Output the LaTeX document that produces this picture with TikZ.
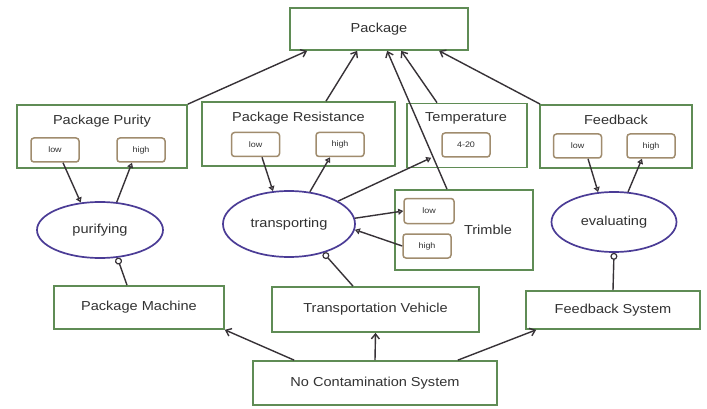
\documentclass[tikz,border=0pt]{standalone}
\usepackage{fontspec}
\setmainfont[FakeStretch=1.12]{Liberation Sans}
\usetikzlibrary{shapes.geometric,arrows.meta,calc}

\definecolor{objgreen}{RGB}{95,140,85}
\definecolor{statebrown}{RGB}{160,140,110}
\definecolor{procpurple}{RGB}{75,60,150}
\definecolor{linkgray}{RGB}{55,50,55}
\definecolor{labelgray}{RGB}{50,50,50}

\tikzset{
  objbox/.style={draw=objgreen, line width=1.7pt, fill=white, inner sep=0pt,
    text=labelgray, font=\fontsize{13}{15}\selectfont},
  attrbox/.style={draw=objgreen, line width=1.7pt, fill=white, inner sep=0pt},
  attrtitle/.style={text=labelgray, font=\fontsize{13}{15}\selectfont, inner sep=0pt},
  statebox/.style={draw=statebrown, line width=1.5pt, fill=white, rounded corners=3pt,
    inner sep=0pt, minimum width=48pt, minimum height=24pt,
    text=labelgray, font=\fontsize{8}{9}\selectfont},
  procnode/.style={ellipse, draw=procpurple, line width=1.7pt, fill=white, inner sep=0pt,
    text=labelgray, font=\fontsize{13}{15}\selectfont},
  link/.style={draw=linkgray, line width=1.4pt},
  partlink/.style={link, -{Straight Barb[length=5pt,width=8pt]}},
  statelink/.style={link, -{Triangle[open,length=5pt,width=6pt]}},
  agentlink/.style={link, -{Circle[open,length=7pt,line width=1.2pt]}},
}

\begin{document}
\begin{tikzpicture}[x=1pt,y=-1pt]
\useasboundingbox (0,0) rectangle (707,409);
\fill[white] (0,0) rectangle (707,409);

% whole object
\node[objbox, minimum width=178pt, minimum height=42pt] (pkg) at (379,29) {Package};

% attribute objects with their states
\node[attrbox, minimum width=170pt, minimum height=63pt] (purity) at (102,136.5) {};
\node[attrtitle] (purityT) at (102,121) {Package Purity};
\node[statebox] (plow) at (55,150) {low};
\node[statebox] (phigh) at (141,150) {high};

\node[attrbox, minimum width=193pt, minimum height=64pt] (resist) at (298.5,134) {};
\node[attrtitle] (resistT) at (298.5,118) {Package Resistance};
\node[statebox] (rlow) at (255.5,144.5) {low};
\node[statebox] (rhigh) at (340,144.5) {high};

\node[attrbox, minimum width=120pt, minimum height=64pt] (temp) at (467,135.5) {};
\node[attrtitle] (tempT) at (466,118) {Temperature};
\node[statebox] (trange) at (466,145) {4-20};

\node[attrbox, minimum width=152pt, minimum height=63pt] (fb) at (616,136.5) {};
\node[attrtitle] (fbT) at (616,120) {Feedback};
\node[statebox] (fblow) at (577.5,146) {low};
\node[statebox] (fbhigh) at (651,146) {high};

\node[attrbox, minimum width=138pt, minimum height=80pt] (trem) at (464,230) {};
\node[attrtitle] (tremT) at (488,230) {Trimble};
\node[statebox, minimum width=50pt, minimum height=25pt] (tlow) at (429,211) {low};
\node[statebox] (thigh) at (427,246) {high};

% processes
\node[procnode, minimum width=126pt, minimum height=56pt] (puri) at (100,230) {purifying};
\node[procnode, minimum width=132pt, minimum height=66pt] (transp) at (289,224) {transporting};
\node[procnode, minimum width=125pt, minimum height=60pt] (evalp) at (614,222) {evaluating};

% systems
\node[objbox, minimum width=170pt, minimum height=43pt] (pm) at (139,307.5) {Package Machine};
\node[objbox, minimum width=207pt, minimum height=45pt] (tv) at (375.5,309.5) {Transportation Vehicle};
\node[objbox, minimum width=174pt, minimum height=38pt] (fs) at (613,310) {Feedback System};
\node[objbox, minimum width=244pt, minimum height=44pt] (ncs) at (375,383) {No Contamination System};

% attributes to the package
\draw[partlink] (purity.north east) -- ($(pkg.south west)+(18,0)$);
\draw[partlink] ($(resist.north)+(27.5,0)$) -- ($(pkg.south west)+(68,0)$);
\draw[partlink] ($(temp.north)+(-30,0)$) -- ($(pkg.south west)+(112,0)$);
\draw[partlink] ($(trem.north)+(-17,0)$) -- ($(pkg.south west)+(98,0)$);
\draw[partlink] ($(fb.north west)+(1,0)$) -- ($(pkg.south west)+(150,0)$);

% state changes
\draw[statelink] ($(plow.south)+(8,0)$) -- (puri.125);
\draw[statelink] (puri.59) -- ($(phigh.south)+(-9,0)$);
\draw[statelink] ($(rlow.south)+(6.5,0)$) -- (transp.116);
\draw[statelink] (transp.57) -- ($(rhigh.south)+(-10,0)$);
\draw[statelink] ($(fblow.south)+(10.5,0)$) -- (evalp.118);
\draw[statelink] (evalp.65) -- ($(fbhigh.south)+(-9,0)$);
\draw[statelink] (transp.5) -- (tlow.west);
\draw[statelink] (thigh.west) -- (transp.-5);
\coordinate (tempin) at ($(trange.south west)+(-10,0)$);
\draw[statelink] (transp.25) -- (tempin);

% agents
\draw[agentlink] ($(pm.north)+(-12,0)$) -- (puri.-58);
\draw[agentlink] ($(tv.north)+(-22.5,0)$) -- (transp.-40);
\draw[agentlink] (fs.north) -- (evalp.south);

% system composition
\draw[partlink] ($(ncs.north west)+(42,0)$) -- (pm.south east);
\draw[partlink] (ncs.north) -- (tv.south);
\draw[partlink] ($(ncs.north east)+(-40,0)$) -- ($(fs.south west)+(11,0)$);
\end{tikzpicture}
\end{document}
